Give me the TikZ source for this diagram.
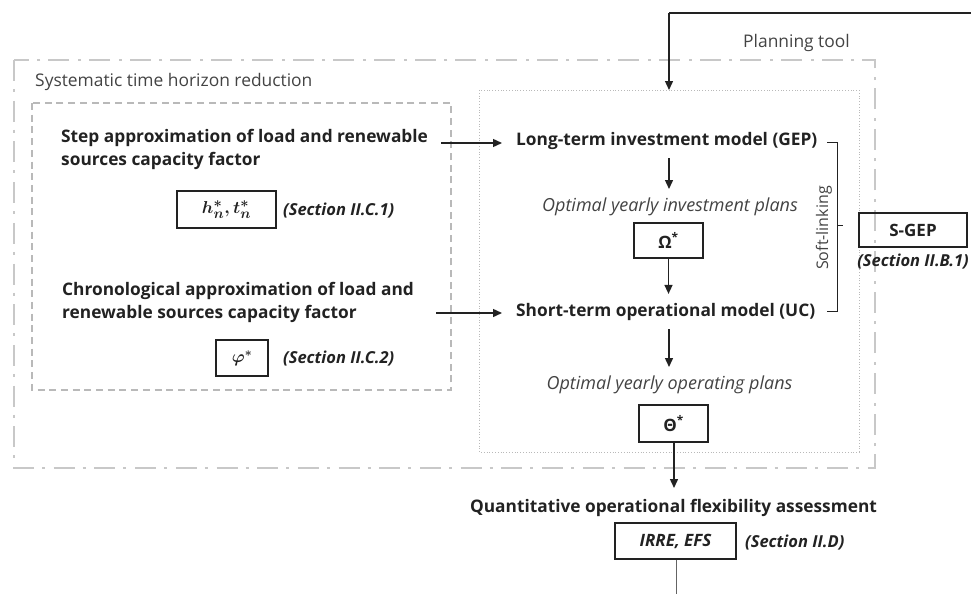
\documentclass[tikz,border=0pt]{standalone}
\usepackage{amsmath}
\usepackage{fontspec}
\setmainfont{Open Sans}
\usetikzlibrary{arrows.meta}
\definecolor{ink}{HTML}{222222}
\definecolor{frame}{HTML}{C8C8C8}
\newcommand{\bmath}[1]{\begingroup\mathversion{bold}$#1$\endgroup}
\begin{document}
\begin{tikzpicture}[x=1pt,y=-1pt,
  head/.style={font=\fontsize{17.3}{23}\selectfont\bfseries, text=ink, align=left, inner sep=0pt},
  plain/.style={font=\fontsize{17.4}{18}\selectfont, text=ink!85, inner sep=0pt},
  itl/.style={font=\fontsize{18}{18}\selectfont\itshape, text=ink!85, inner sep=0pt},
  sect/.style={font=\fontsize{16.5}{16}\selectfont\bfseries\itshape, text=ink, inner sep=0pt},
  valbox/.style={draw=ink, line width=1.8pt, inner sep=0pt, font=\fontsize{17}{18}\selectfont\bfseries, text=ink},
  arr/.style={draw=ink, line width=1.4pt, -{Triangle[length=9pt,width=8pt]}},
  ln/.style={draw=ink, line width=1.3pt}
]
\useasboundingbox (0,0) rectangle (971,594);
% frames
\draw[frame, line width=2.4pt, dash pattern=on 21pt off 8pt on 3pt off 8.7pt] (14,60) rectangle (875,468);
\draw[gray!55, line width=1.3pt, dash pattern=on 7pt off 4.7pt] (32,103) rectangle (451,390);
\draw[gray!55, line width=0.8pt, dotted] (479,90) rectangle (859,452);
\node[plain, anchor=east] (pt) at (850,43) {Planning tool};
\node[plain, anchor=west] (sys) at (35,82) {Systematic time horizon reduction};

% left block
\node[head, anchor=west] (step) at (61,149.5) {Step approximation of load and renewable\\sources capacity factor};
\node[valbox, minimum width=99pt, minimum height=37pt, font=\fontsize{19}{18}\selectfont] (hn) at (226.5,209.5) {\bmath{h_n^*, t_n^*}};
\node[sect, anchor=west] (s1) at (283,211) {(Section II.C.1)};
\node[head, anchor=west] (chron) at (62,302.5) {Chronological approximation of load and\\renewable sources capacity factor};
\node[valbox, minimum width=52pt, minimum height=36pt, font=\fontsize{18}{18}\selectfont] (phi) at (242,358) {\bmath{\varphi^{*}}};
\node[sect, anchor=west] (s2) at (283,359) {(Section II.C.2)};

% right block
\node[head, anchor=west] (gep) at (516,141) {Long-term investment model (GEP)};
\node[itl] (inv) at (670,207) {Optimal yearly investment plans};
\node[valbox, minimum width=69pt, minimum height=35pt] (om) at (668.5,240.5) {Ω\textsuperscript{*}};
\node[head, anchor=west] (uc) at (516,312) {Short-term operational model (UC)};
\node[itl] (op) at (669.5,385) {Optimal yearly operating plans};
\node[valbox, minimum width=69pt, minimum height=37pt] (th) at (673.5,423.5) {Θ\textsuperscript{*}};
\node[head] (qa) at (673.5,508) {Quantitative operational flexibility assessment};
\node[valbox, minimum width=121pt, minimum height=36pt, font=\fontsize{17}{18}\selectfont\bfseries\itshape] (ir) at (675.5,541) {IRRE, EFS};
\node[sect, anchor=west] (s3) at (745,543) {(Section II.D)};

% S-GEP
\node[valbox, minimum width=108pt, minimum height=34pt] (sg) at (913,230) {S-GEP};
\node[sect] (s4) at (913,262) {(Section II.B.1)};
\node[plain, rotate=90, font=\fontsize{16}{18}\selectfont] (soft) at (824,228) {Soft-linking};

% connectors
\coordinate (topR) at (971,13);
\coordinate (topL) at (669,13);
\coordinate (dotTop) at (669,90);
\draw[ln] (topR) -- (topL);
\draw[arr] (topL) -- (dotTop);

\coordinate (a1) at (441,143);
\coordinate (a1e) at (502,143);
\draw[arr] (a1) -- (a1e);
\coordinate (a2) at (436,313);
\coordinate (a2e) at (502,313);
\draw[arr] (a2) -- (a2e);

\coordinate (g1) at (669,158);
\coordinate (g2) at (669,189);
\draw[arr] (g1) -- (g2);
\draw[arr] (om.south) -- ++(0,35);
\coordinate (u1) at (669,329);
\coordinate (u2) at (669,367);
\draw[arr] (u1) -- (u2);
\coordinate (q1) at (674,488);
\draw[arr] (th.south -| q1) -- (q1);
\coordinate (bot) at (676,594);
\draw[draw=ink!70, line width=0.9pt] (ir.south -| bot) -- (bot);

% bracket
\coordinate (b1) at (827,142);
\coordinate (b2) at (837,142);
\coordinate (b3) at (837,311);
\coordinate (b4) at (827,311);
\coordinate (bm) at (837,225);
\coordinate (bm2) at (843,225);
\draw[ink, line width=1pt] (b1) -- (b2) -- (b3) -- (b4);
\draw[ink, line width=1pt] (bm) -- (bm2);
\end{tikzpicture}
\end{document}
